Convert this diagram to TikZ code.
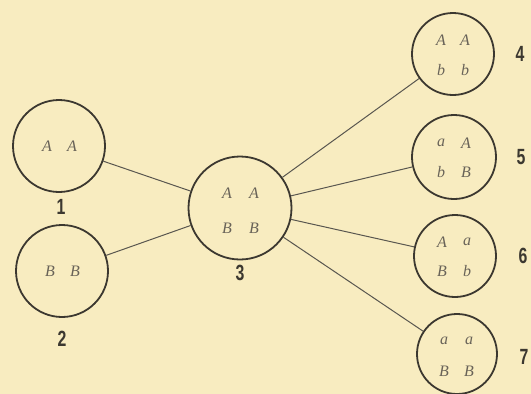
\documentclass[tikz,border=0pt]{standalone}
\usepackage{fontspec}
\setmainfont{Liberation Serif}
\newfontfamily\numfont{Liberation Sans}
\definecolor{bg}{RGB}{248,236,192}
\definecolor{ink}{RGB}{60,56,48}
\definecolor{let}{RGB}{105,99,88}
\begin{document}
\begin{tikzpicture}[x=1pt,y=-1pt,
  cell/.style={circle,draw=ink,line width=1.8pt,inner sep=0pt},
  link/.style={draw=ink!85,line width=1pt},
  gene/.style={text=let,font=\itshape\fontsize{16}{16}\selectfont,inner sep=0pt},
  num/.style={text=ink,font=\numfont\bfseries\fontsize{22}{22}\selectfont,inner sep=0pt,xscale=0.72}]
\fill[bg] (0,0) rectangle (531,394);
\useasboundingbox (0,0) rectangle (531,394);
\node[cell,minimum size=92pt] (c1) at (59,146) {};
\node[cell,minimum size=92pt] (c2) at (62,271) {};
\node[cell,minimum size=103pt] (c3) at (240,208) {};
\node[cell,minimum size=82pt] (c4) at (453,54) {};
\node[cell,minimum size=84pt] (c5) at (454,157) {};
\node[cell,minimum size=82pt] (c6) at (455,256) {};
\node[cell,minimum size=80pt] (c7) at (457,354) {};
\draw[link] (c1) -- (c3);
\draw[link] (c2) -- (c3);
\draw[link] (c3) -- (c4);
\draw[link] (c3) -- (c5);
\draw[link] (c3) -- (c6);
\draw[link] (c3) -- (c7);
% genes
\node[gene] (g1a) at (47,146) {A};
\node[gene] (g1b) at (72,146) {A};
\node[gene] (g2a) at (50,271) {B};
\node[gene] (g2b) at (75,271) {B};
\node[gene] (g3a) at (227,193) {A};
\node[gene] (g3b) at (254,193) {A};
\node[gene] (g3c) at (227,228) {B};
\node[gene] (g3d) at (254,228) {B};
\node[gene] (g4a) at (441,40) {A};
\node[gene] (g4b) at (465,40) {A};
\node[gene] (g4c) at (441,70) {b};
\node[gene] (g4d) at (465,70) {b};
\node[gene] (g5a) at (441,143) {a};
\node[gene] (g5b) at (466,143) {A};
\node[gene] (g5c) at (441,172) {b};
\node[gene] (g5d) at (466,172) {B};
\node[gene] (g6a) at (442,242) {A};
\node[gene] (g6b) at (467,242) {a};
\node[gene] (g6c) at (442,271) {B};
\node[gene] (g6d) at (467,271) {b};
\node[gene] (g7a) at (444,341) {a};
\node[gene] (g7b) at (469,341) {a};
\node[gene] (g7c) at (444,371) {B};
\node[gene] (g7d) at (469,371) {B};
% numbers
\node[num] (n1) at (61,207) {1};
\node[num] (n2) at (62,339) {2};
\node[num] (n3) at (240,273) {3};
\node[num] (n4) at (520,54) {4};
\node[num] (n5) at (521,157) {5};
\node[num] (n6) at (523,256) {6};
\node[num] (n7) at (524,357) {7};
\end{tikzpicture}
\end{document}
